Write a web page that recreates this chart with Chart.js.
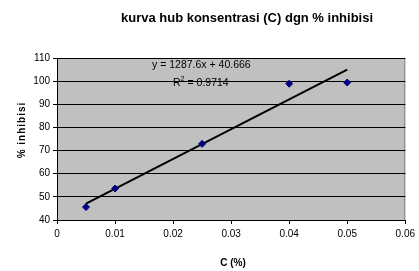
<!DOCTYPE html>
<html lang="en">
<head>
<meta charset="UTF-8">
<title>kurva hub konsentrasi</title>
<script src="https://cdn.jsdelivr.net/npm/chart.js"></script>
<style>
  html, body { margin: 0; padding: 0; background: #ffffff; }
  #wrap { position: relative; width: 419px; height: 271px; }
</style>
</head>
<body>
<div id="wrap"><canvas id="chart" width="419" height="271"></canvas></div>
<script>
// data
const concentration = [0.005, 0.01, 0.025, 0.04, 0.05];
const inhibition = [45.6, 53.6, 72.9, 98.9, 99.4];
// trendline endpoints (y = 1287.6x + 40.666)
const trendX = [0.005, 0.05];
const trendY = [47.1, 105.0];
const equationText = 'y = 1287.6x + 40.666';
const r2Text = '0.9714';

const FONT = "'Liberation Sans', Arial, sans-serif";

// gray plot area + outer border
const plotBackground = {
  id: 'plotBackground',
  beforeDraw(chart) {
    const { ctx, chartArea: a } = chart;
    ctx.save();
    ctx.fillStyle = '#c0c0c0';
    ctx.fillRect(a.left, a.top, a.right - a.left, a.bottom - a.top);
    ctx.strokeStyle = '#808080';
    ctx.lineWidth = 1;
    ctx.strokeRect(a.left + 0.5, a.top + 0.5, a.right - a.left - 1, a.bottom - a.top);
    ctx.restore();
  }
};

// titles and equation labels
const labels = {
  id: 'labels',
  afterDraw(chart) {
    const ctx = chart.ctx;
    ctx.save();
    ctx.fillStyle = '#000';
    ctx.textBaseline = 'middle';
    ctx.textAlign = 'center';
    ctx.font = 'bold 13px ' + FONT;
    ctx.fillText('kurva hub konsentrasi (C) dgn % inhibisi', 247, 18);

    ctx.font = 'bold 10px ' + FONT;
    ctx.fillText('C (%)', 233, 263);
    ctx.save();
    ctx.translate(22, 130);
    ctx.rotate(-Math.PI / 2);
    ctx.letterSpacing = '1px';
    ctx.fillText('% inhibisi', 0, 0);
    ctx.restore();

    ctx.font = '10.5px ' + FONT;
    ctx.textAlign = 'left';
    ctx.fillText(equationText, 152, 65);
    const rx = 173;
    ctx.fillText('R', rx, 83);
    const rw = ctx.measureText('R').width;
    ctx.font = '7px ' + FONT;
    ctx.fillText('2', rx + rw, 79);
    ctx.font = '10.5px ' + FONT;
    ctx.fillText(' = ' + r2Text, rx + rw + 4, 83);
    ctx.restore();
  }
};

new Chart(document.getElementById('chart'), {
  type: 'scatter',
  data: {
    datasets: [
      {
        label: 'data',
        data: concentration.map((x, i) => ({ x: x, y: inhibition[i] })),
        pointStyle: 'rectRot',
        pointRadius: 3.5,
        backgroundColor: '#000080',
        borderColor: '#000080',
        borderWidth: 1
      },
      {
        label: 'trend',
        data: trendX.map((x, i) => ({ x: x, y: trendY[i] })),
        showLine: true,
        pointRadius: 0,
        borderColor: '#000000',
        borderWidth: 2
      }
    ]
  },
  plugins: [plotBackground, labels],
  options: {
    responsive: false,
    animation: false,
    layout: { padding: { left: 0, top: 58, right: 11, bottom: 0 } },
    plugins: {
      legend: { display: false },
      title: { display: false },
      tooltip: { enabled: false }
    },
    scales: {
      x: {
        type: 'linear',
        min: 0,
        max: 0.06,
        ticks: {
          stepSize: 0.01,
          color: '#000',
          padding: 4,
          font: { family: FONT, size: 10 },
          callback: v => +v.toFixed(2)
        },
        grid: { drawOnChartArea: false, drawTicks: true, tickLength: 4, color: '#000' },
        border: { color: '#000', width: 1 },
        afterFit(scale) { scale.height = 51; }
      },
      y: {
        min: 40,
        max: 110,
        ticks: {
          stepSize: 10,
          color: '#000',
          padding: 3,
          font: { family: FONT, size: 10 }
        },
        grid: { color: '#000', drawTicks: true, tickLength: 4, lineWidth: 1 },
        border: { color: '#000', width: 1 },
        afterFit(scale) { scale.width = 57; }
      }
    }
  }
});
</script>
</body>
</html>
